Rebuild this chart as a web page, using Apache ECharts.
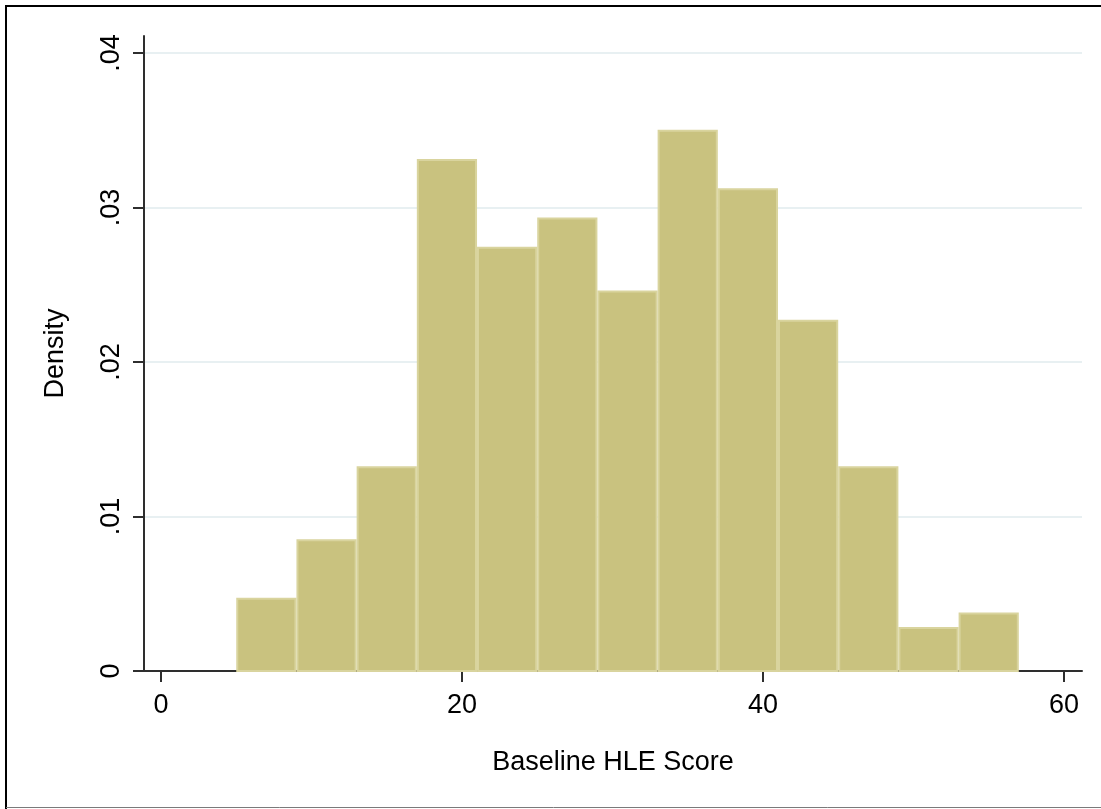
<!DOCTYPE html>
<html>
<head>
<meta charset="utf-8">
<script src="https://cdn.jsdelivr.net/npm/echarts@6/dist/echarts.min.js"></script>
<style>
  html, body { margin: 0; padding: 0; background: #ffffff; }
  #chart { width: 1101px; height: 809px; }
</style>
</head>
<body>
<div id="chart"></div>
<script>
// Histogram of baseline HLE scores: bins of width 4 starting at 5
const binStarts = [5, 9, 13, 17, 21, 25, 29, 33, 37, 41, 45, 49, 53];
const binWidth = 4;
const densities = [0.004735, 0.008523, 0.013258, 0.033144, 0.027462, 0.029356,
                   0.024621, 0.035038, 0.031250, 0.022727, 0.013258, 0.002841, 0.003788];
const xTicks = [0, 20, 40, 60];
const yTicks = [0, 0.01, 0.02, 0.03, 0.04];
const yTickLabels = ['0', '.01', '.02', '.03', '.04'];

const FONT = '"Liberation Sans", Arial, sans-serif';
const FONT_SIZE = 27;
const AXIS_COLOR = '#2e2e2e';

const chart = echarts.init(document.getElementById('chart'), null, { renderer: 'canvas' });

const barData = binStarts.map((s, i) => [s, s + binWidth, densities[i]]);

chart.setOption({
  backgroundColor: '#ffffff',
  animation: false,
  grid: { left: 144, right: 19, top: 36, bottom: 138, containLabel: false },
  xAxis: {
    type: 'value',
    min: -1.13,
    max: 61.2,
    name: 'Baseline HLE Score',
    nameLocation: 'middle',
    nameGap: 78,
    nameTextStyle: { color: '#000', fontSize: FONT_SIZE, fontFamily: FONT },
    axisLine: { show: true, onZero: false, lineStyle: { color: AXIS_COLOR, width: 2 } },
    axisTick: { show: true, length: 11, customValues: xTicks, lineStyle: { color: AXIS_COLOR, width: 2 } },
    axisLabel: { customValues: xTicks, color: '#000', fontSize: FONT_SIZE, fontFamily: FONT, margin: 21 },
    splitLine: { show: false }
  },
  yAxis: {
    type: 'value',
    min: 0,
    max: 0.0411,
    name: 'Density',
    nameLocation: 'middle',
    nameGap: 75,
    nameRotate: 90,
    nameTextStyle: { color: '#000', fontSize: FONT_SIZE, fontFamily: FONT },
    axisLine: { show: true, onZero: false, lineStyle: { color: AXIS_COLOR, width: 2 } },
    axisTick: { show: true, length: 11, customValues: yTicks, lineStyle: { color: AXIS_COLOR, width: 2 } },
    axisLabel: {
      customValues: yTicks,
      rotate: 90,
      color: '#000', fontSize: FONT_SIZE, fontFamily: FONT, margin: 19,
      formatter: v => {
        const i = yTicks.findIndex(t => Math.abs(t - v) < 1e-9);
        return i >= 0 ? yTickLabels[i] : '';
      }
    },
    splitLine: { show: true, lineStyle: { color: '#e8f0f2', width: 2 } }
  },
  series: [{
    type: 'custom',
    data: barData,
    encode: { x: [0, 1], y: 2 },
    renderItem: (params, api) => {
      const p0 = api.coord([api.value(0), 0]);
      const p1 = api.coord([api.value(1), api.value(2)]);
      const x = p0[0] + 1, y = p1[1] + 1;
      const w = p1[0] - p0[0] - 2, h = p0[1] - p1[1] - 1;
      return {
        type: 'rect',
        shape: { x: x, y: y, width: w, height: h },
        style: { fill: '#c9c27f', stroke: '#d9d49e', lineWidth: 2 }
      };
    },
    z: 2
  }],
  graphic: [
    // outer frame
    { type: 'polyline', shape: { points: [[6, 809], [6, 6], [1101, 6]] },
      style: { stroke: '#000', lineWidth: 2, fill: null }, z: 10, silent: true },
    { type: 'line', shape: { x1: 6, y1: 807.5, x2: 1101, y2: 807.5 },
      style: { stroke: '#7a7a7a', lineWidth: 1 }, z: 10, silent: true }
  ]
});
</script>
</body>
</html>
